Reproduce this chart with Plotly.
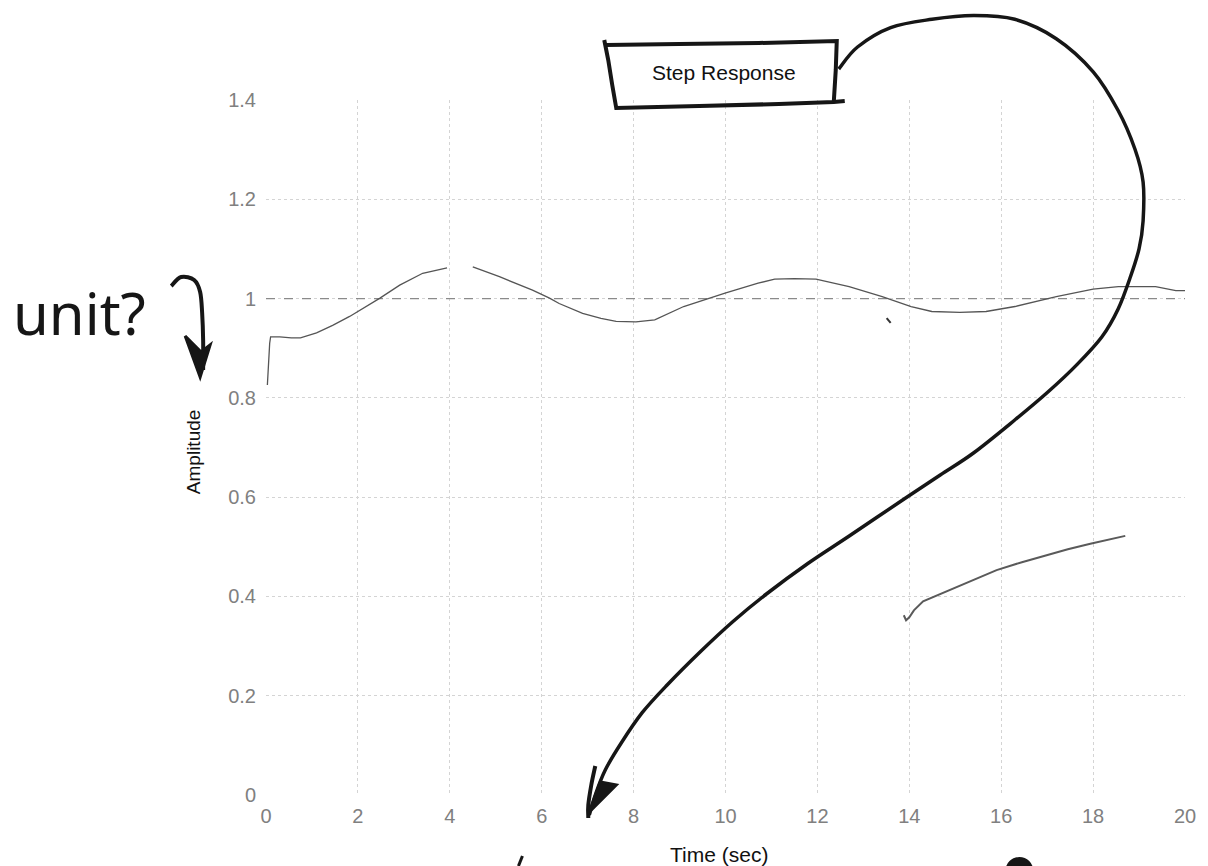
import plotly.graph_objects as go

# ---------------- data ----------------
main_time = [0.03, 0.05, 0.08, 0.10, 0.30, 0.55, 0.75, 1.10, 1.45, 1.82, 2.15, 2.48, 2.91, 3.41, 3.94,
             None,
             4.50, 5.08, 5.80, 6.17, 6.38, 6.89, 7.29, 7.62, 8.05, 8.46, 9.09, 9.99, 10.71, 11.07,
             11.50, 11.97, 12.69, 13.41, 14.04, 14.49, 15.10, 15.67, 16.30, 17.20, 18.00, 18.55,
             19.36, 19.80, 20.00]
main_amp = [0.826, 0.870, 0.910, 0.923, 0.923, 0.921, 0.921, 0.931, 0.946, 0.964, 0.982, 1.001, 1.027,
            1.051, 1.062,
            None,
            1.064, 1.044, 1.017, 1.001, 0.990, 0.970, 0.960, 0.954, 0.953, 0.957, 0.984, 1.011, 1.031,
            1.039, 1.040, 1.039, 1.024, 1.004, 0.984, 0.974, 0.972, 0.974, 0.984, 1.004, 1.019, 1.024,
            1.024, 1.016, 1.016]

frag_time = [13.88, 13.93, 14.00, 14.10, 14.30, 14.79, 15.35, 15.90, 16.45, 16.96, 17.45, 17.94, 18.35, 18.70]
frag_amp = [0.362, 0.352, 0.358, 0.372, 0.390, 0.409, 0.432, 0.453, 0.469, 0.483, 0.495, 0.506, 0.515, 0.522]

steady_time = [0, 20]
steady_amp = [1.0, 1.0]

x_ticks = [0, 2, 4, 6, 8, 10, 12, 14, 16, 18, 20]
x_tick_labels = ["0", "2", "4", "6", "8", "10", "12", "14", "16", "18", "20"]
y_ticks = [0, 0.2, 0.4, 0.6, 0.8, 1.0, 1.2, 1.4]
y_tick_labels = ["0", "0.2", "0.4", "0.6", "0.8", "1", "1.2", "1.4"]

title_text = "Step Response"
x_title = "Time (sec)"
y_title = "Amplitude"
note_text = "unit?"

# ---------------- layout geometry ----------------
W, H = 1208, 866
L, R, T, B = 266, 21, 100, 71
PW, PH = W - L - R, H - T - B


def px(x, y):
    """page pixel -> paper coordinates"""
    return (x - L) / PW, (H - B - y) / PH


def smooth_path(pts, closed=False):
    p = [px(*q) for q in pts]
    s = "M %.5f,%.5f" % p[0]
    n = len(p)
    for i in range(n - 1):
        p0 = p[i - 1] if i > 0 else p[i]
        p1, p2 = p[i], p[i + 1]
        p3 = p[i + 2] if i + 2 < n else p[i + 1]
        c1 = (p1[0] + (p2[0] - p0[0]) / 6, p1[1] + (p2[1] - p0[1]) / 6)
        c2 = (p2[0] - (p3[0] - p1[0]) / 6, p2[1] - (p3[1] - p1[1]) / 6)
        s += " C %.5f,%.5f %.5f,%.5f %.5f,%.5f" % (c1 + c2 + p2)
    if closed:
        s += " Z"
    return s


def poly_path(pts, closed=False):
    p = [px(*q) for q in pts]
    s = "M %.5f,%.5f" % p[0] + "".join(" L %.5f,%.5f" % q for q in p[1:])
    return s + (" Z" if closed else "")


INK = "#161616"

# hand-drawn ink strokes (decoration, page pixels)
box_stroke = [(605, 40), (609, 60), (613, 85), (617, 108), (700, 106), (780, 104), (835, 102), (846, 101)]
box_top = [(607, 45), (680, 44), (760, 43), (838, 41), (837, 70), (835, 102)]
big_curve = [(840, 69), (858.8, 47), (892, 27.6), (933.4, 19.3), (975, 15.5), (1016.4, 19.3),
             (1058, 38.7), (1095, 71.8), (1120, 110.5), (1136.8, 149), (1145, 182), (1145, 221),
             (1141, 248.6), (1132.6, 276), (1120, 309), (1103.6, 337), (1078.7, 364.6), (1049.6, 392),
             (1016.4, 420), (975, 453), (941.7, 475), (908.5, 497), (850.5, 536), (809, 563.5),
             (767.5, 594), (734, 621.5), (701, 652), (668, 685), (643, 712.7), (622, 743),
             (606, 770), (596, 795), (590, 815)]
big_head_loop = [(596, 766), (592, 785), (589, 805), (589, 818)]
big_head = [(590, 812), (617, 785), (601, 782)]
unit_hook = [(171, 286), (181, 277), (194, 280), (200, 292), (202, 313), (203, 340), (203, 370)]
unit_head = [(185, 336), (200, 377), (210, 345), (201, 352)]

shapes = []
shapes.append(dict(type="path", xref="paper", yref="paper", path=poly_path(box_stroke),
                   line=dict(color=INK, width=4)))
shapes.append(dict(type="path", xref="paper", yref="paper", path=poly_path(box_top),
                   line=dict(color=INK, width=4)))
shapes.append(dict(type="path", xref="paper", yref="paper", path=smooth_path(big_curve),
                   line=dict(color=INK, width=3.5)))
shapes.append(dict(type="path", xref="paper", yref="paper", path=smooth_path(big_head_loop),
                   line=dict(color=INK, width=4)))
shapes.append(dict(type="path", xref="paper", yref="paper", path=poly_path(big_head, True),
                   line=dict(color=INK, width=3), fillcolor=INK))
shapes.append(dict(type="path", xref="paper", yref="paper", path=smooth_path(unit_hook),
                   line=dict(color=INK, width=4)))
shapes.append(dict(type="path", xref="paper", yref="paper", path=poly_path(unit_head, True),
                   line=dict(color=INK, width=3), fillcolor=INK))
# small stray ink marks
shapes.append(dict(type="path", xref="paper", yref="paper", path=poly_path([(888, 318), (892, 323)]),
                   line=dict(color="#333", width=2)))
cx0, cy0 = px(1008, 858)
cx1, cy1 = px(1034, 884)
shapes.append(dict(type="circle", xref="paper", yref="paper", x0=cx0, y0=cy0, x1=cx1, y1=cy1,
                   line=dict(color=INK, width=2), fillcolor=INK))
shapes.append(dict(type="path", xref="paper", yref="paper", path=poly_path([(519, 866), (523, 856)]),
                   line=dict(color=INK, width=3)))

fig = go.Figure()
fig.add_trace(go.Scatter(x=steady_time, y=steady_amp, mode="lines",
                         line=dict(color="#8a8a8a", width=1.2, dash="dash"), hoverinfo="skip"))
fig.add_trace(go.Scatter(x=main_time, y=main_amp, mode="lines", connectgaps=False,
                         line=dict(color="#555555", width=1.3)))
fig.add_trace(go.Scatter(x=frag_time, y=frag_amp, mode="lines",
                         line=dict(color="#5a5a5a", width=2)))

tick_font = dict(family="Liberation Sans, Arial, sans-serif", size=20, color="#808080")
grid = dict(showgrid=True, gridcolor="#d4d4d4", gridwidth=1, griddash="dot", zeroline=False,
            showline=False, ticks="", tickfont=tick_font)

fig.update_xaxes(range=[0, 20], tickmode="array", tickvals=x_ticks, ticktext=x_tick_labels,
                 ticklabelstandoff=7, **grid)
fig.update_yaxes(range=[0, 1.4], tickmode="array", tickvals=y_ticks, ticktext=y_tick_labels,
                 ticklabelstandoff=9, **grid)

ax, ay = px(725, 73)
tx, ty = px(720, 855)
yx, yy = px(193, 452)
ux, uy = px(10, 312)
fig.update_layout(
    width=W, height=H,
    margin=dict(l=L, r=R, t=T, b=B, pad=0),
    paper_bgcolor="white", plot_bgcolor="white",
    showlegend=False,
    shapes=shapes,
    annotations=[
        dict(text=title_text, x=ax, y=ay, xref="paper", yref="paper", showarrow=False,
             xanchor="center", yanchor="middle",
             font=dict(family="Liberation Sans, Arial, sans-serif", size=21, color="#111")),
        dict(text=x_title, x=tx, y=ty, xref="paper", yref="paper", showarrow=False,
             xanchor="center", yanchor="middle",
             font=dict(family="Liberation Sans, Arial, sans-serif", size=21, color="#111")),
        dict(text=y_title, x=yx, y=yy, xref="paper", yref="paper", showarrow=False, textangle=-90,
             xanchor="center", yanchor="middle",
             font=dict(family="Liberation Sans, Arial, sans-serif", size=19, color="#111")),
        dict(text=note_text, x=ux, y=uy, xref="paper", yref="paper", showarrow=False,
             xanchor="left", yanchor="middle",
             font=dict(family="Noto Sans, sans-serif", size=58, color=INK)),
    ],
)

fig.write_html("out.html", config={"displayModeBar": False},
               post_script="document.body.style.margin='0';document.body.style.overflow='hidden';")
